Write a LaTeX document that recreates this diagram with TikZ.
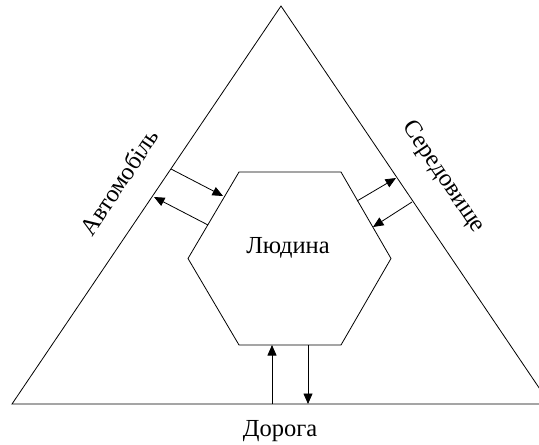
\documentclass[tikz,border=0pt]{standalone}
\usepackage{fontspec}
\setmainfont{Liberation Serif}
\usetikzlibrary{arrows.meta}
\begin{document}
\begin{tikzpicture}[x=1pt,y=-1pt,
  edge/.style={line width=0.8pt},
  flow/.style={line width=0.8pt,-{Triangle[length=10.5pt,width=9pt]}},
  lbl/.style={font=\fontsize{24.5}{28}\selectfont, inner sep=0pt}]
\clip (0,0) rectangle (539,445);
% outer triangle
\coordinate (T) at (281,6);
\coordinate (BL) at (12,404);
\coordinate (BR) at (550,404);
\draw[edge, line join=miter] (BL) -- (T) -- (BR) -- cycle;
% hexagon
\coordinate (H1) at (239,172);
\coordinate (H2) at (341,172);
\coordinate (H3) at (391,258.5);
\coordinate (H4) at (341,345);
\coordinate (H5) at (239,345);
\coordinate (H6) at (188,258.5);
\draw[edge] (H1) -- (H2) -- (H3) -- (H4) -- (H5) -- (H6) -- cycle;
\node[lbl] (man) at (288,248) {Людина};
% exchange with the car
\coordinate (a1s) at (171,169);
\coordinate (a1e) at (223,196);
\coordinate (a2s) at (208,225);
\coordinate (a2e) at (154,197);
\draw[flow] (a1s) -- (a1e);
\draw[flow] (a2s) -- (a2e);
% exchange with the environment
\coordinate (b1s) at (357,201);
\coordinate (b1e) at (396,178);
\coordinate (b2s) at (412,202);
\coordinate (b2e) at (373,227);
\draw[flow] (b1s) -- (b1e);
\draw[flow] (b2s) -- (b2e);
% exchange with the road
\coordinate (c1s) at (272,404);
\coordinate (c1e) at (272,345);
\coordinate (c2s) at (308,345);
\coordinate (c2e) at (308,404);
\draw[flow] (c1s) -- (c1e);
\draw[flow] (c2s) -- (c2e);
% side labels
\node[lbl] (road) at (280,431) {Дорога};
\node[lbl, rotate=56] (car) at (119,182) {Автомобіль};
\node[lbl, rotate=-56] (env) at (443,177) {Середовище};
\end{tikzpicture}
\end{document}
